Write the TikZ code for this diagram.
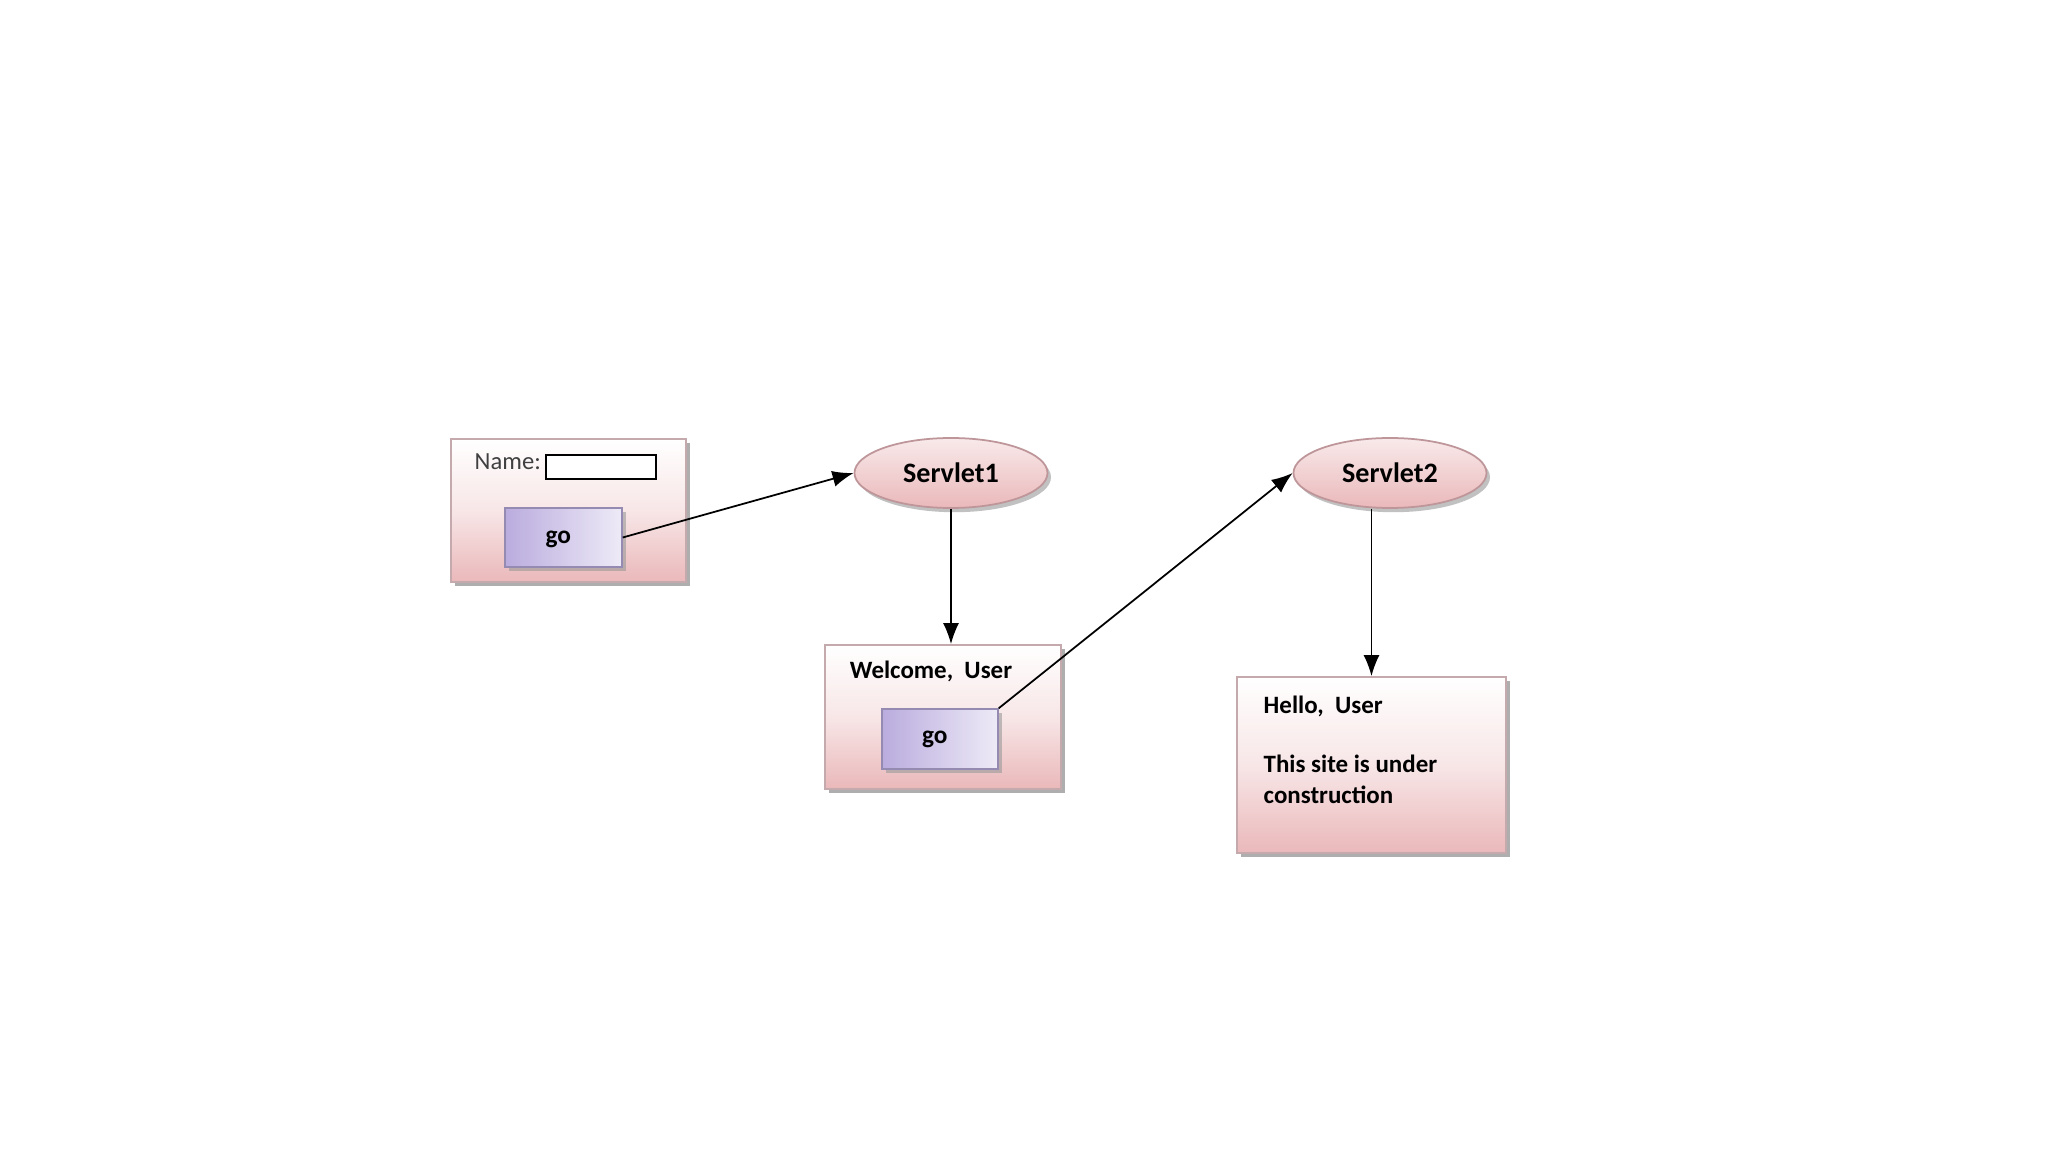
\documentclass[tikz,border=0pt]{standalone}
\usepackage{fontspec}
\setmainfont{Carlito}
\usepackage{tikz}
\usetikzlibrary{shapes.geometric,shadows,arrows.meta}
\definecolor{boxpink}{RGB}{234,184,186}
\definecolor{boxline}{RGB}{196,170,172}
\definecolor{btnlav}{RGB}{186,172,222}
\definecolor{elline}{RGB}{190,150,154}
\tikzset{
	page/.style={x=1cm, y=1cm},
	pagebox/.style={rectangle, draw=boxline, line width=0.5pt, top color=white, bottom color=boxpink, middle color=boxpink!35, drop shadow={shadow xshift=1pt, shadow yshift=-1pt, fill=black!45, opacity=0.7}},
	gobtn/.style={rectangle, draw=btnlav!80!black, line width=0.4pt, left color=btnlav, right color=btnlav!25, minimum width=1.17cm, minimum height=0.59cm, font=\fontsize{7.2}{9}\selectfont\bfseries, drop shadow={shadow xshift=1pt, shadow yshift=-1pt, fill=black!40, opacity=0.6}},
	servlet/.style={ellipse, draw=elline, line width=0.5pt, top color=white!70!boxpink, bottom color=boxpink, minimum width=1.93cm, minimum height=0.70cm, font=\fontsize{8}{9}\selectfont\bfseries, drop shadow={shadow xshift=1pt, shadow yshift=-1.2pt, fill=black!40, opacity=0.6}},
	txt/.style={inner sep=0pt, font=\fontsize{7.1}{8.8}\selectfont\bfseries},
	link/.style={-{Latex[length=6pt, width=4.6pt]}, line width=0.5pt, black}
}
\begin{document}
\begin{tikzpicture}[page]
		%%%%% START %%%%%
		\useasboundingbox[fill=white] (0, 0) rectangle (20.48, -11.52);
		
		% login page
		\node[pagebox, minimum width=2.35cm, minimum height=1.43cm] (login) at (5.685, -5.105) {};
		\node[inner sep=0pt, anchor=west, font=\fontsize{7}{9}\selectfont, black!75] (namelbl) at (4.74, -4.62) {Name:};
		\node[draw=black, fill=white, line width=0.6pt, minimum width=1.10cm, minimum height=0.24cm, inner sep=0pt] (namefield) at (6.01, -4.67) {};
		\node[gobtn, text depth=0pt] (goa) at (5.635, -5.375) {\hspace*{-3pt}go};
		
		% servlets
		\node[servlet] (servleta) at (9.51, -4.73) {Servlet1};
		\node[servlet] (servletb) at (13.90, -4.73) {Servlet2};
		
		% welcome page
		\node[pagebox, minimum width=2.36cm, minimum height=1.44cm] (welcome) at (9.43, -7.17) {};
		\node[txt] (welcometxt) at (9.31, -6.71) {Welcome,\ \ User};
		\node[gobtn, minimum width=1.16cm, minimum height=0.60cm] (gob) at (9.40, -7.39) {\hspace*{-3pt}go};
		
		% hello page
		\node[pagebox, minimum width=2.69cm, minimum height=1.76cm] (hello) at (13.715, -7.65) {};
		\node[txt, anchor=north west, align=left] (hellotxt) at (12.63, -6.95) {Hello,\ \ User\\[8pt]This site is under\\construction};
		
		% links
		\draw[link] (goa.east) -- (servleta.west);
		\draw[link] (servleta.south) -- (servleta.south |- welcome.north);
		\draw[link] (gob.north east) -- (servletb.west);
		\draw[link] (hello.north |- servletb.south) -- (hello.north);
		
		%%%%% END %%%%%
	\end{tikzpicture}
\end{document}
